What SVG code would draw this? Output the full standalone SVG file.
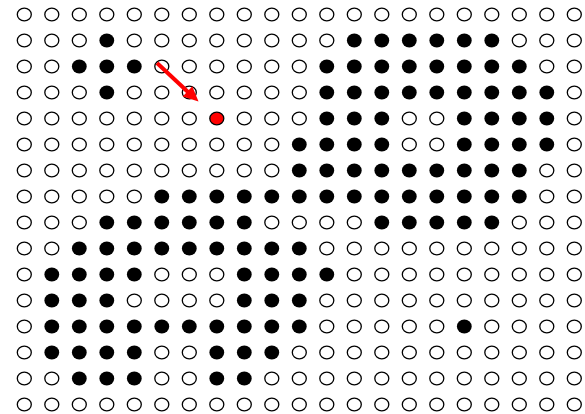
<svg xmlns="http://www.w3.org/2000/svg" xmlns:xlink="http://www.w3.org/1999/xlink" width="585" height="414" viewBox="0 0 585 414">
<style>
.bg{fill:#fff}
.arrow{stroke:#f00;stroke-width:4;fill:none}
.head{fill:#f00}
</style>
<defs>
<ellipse id="e" rx="7" ry="6.3" fill="#fff" stroke="#000" stroke-width="1.3"/>
<ellipse id="f" rx="7.4" ry="6.9" fill="#000"/>
<ellipse id="r" rx="7" ry="6.3" fill="#f00" stroke="#000" stroke-width="1.3"/>
</defs>
<rect class="bg" width="585" height="414"/>
<g id="grid">
<g id="row0" transform="translate(0,14.5)">
<use href="#e" x="24.3"/><use href="#e" x="51.8"/><use href="#e" x="79.3"/><use href="#e" x="106.8"/><use href="#e" x="134.3"/><use href="#e" x="161.8"/><use href="#e" x="189.3"/><use href="#e" x="216.8"/><use href="#e" x="244.3"/><use href="#e" x="271.8"/><use href="#e" x="299.3"/><use href="#e" x="326.8"/><use href="#e" x="354.3"/><use href="#e" x="381.8"/><use href="#e" x="409.3"/><use href="#e" x="436.8"/><use href="#e" x="464.3"/><use href="#e" x="491.8"/><use href="#e" x="519.3"/><use href="#e" x="546.8"/><use href="#e" x="574.3"/>
</g>
<g id="row1" transform="translate(0,40.5)">
<use href="#e" x="24.3"/><use href="#e" x="51.8"/><use href="#e" x="79.3"/><use href="#f" x="106.8"/><use href="#e" x="134.3"/><use href="#e" x="161.8"/><use href="#e" x="189.3"/><use href="#e" x="216.8"/><use href="#e" x="244.3"/><use href="#e" x="271.8"/><use href="#e" x="299.3"/><use href="#e" x="326.8"/><use href="#f" x="354.3"/><use href="#f" x="381.8"/><use href="#f" x="409.3"/><use href="#f" x="436.8"/><use href="#f" x="464.3"/><use href="#f" x="491.8"/><use href="#e" x="519.3"/><use href="#e" x="546.8"/><use href="#e" x="574.3"/>
</g>
<g id="row2" transform="translate(0,66.5)">
<use href="#e" x="24.3"/><use href="#e" x="51.8"/><use href="#f" x="79.3"/><use href="#f" x="106.8"/><use href="#f" x="134.3"/><use href="#e" x="161.8"/><use href="#e" x="189.3"/><use href="#e" x="216.8"/><use href="#e" x="244.3"/><use href="#e" x="271.8"/><use href="#e" x="299.3"/><use href="#f" x="326.8"/><use href="#f" x="354.3"/><use href="#f" x="381.8"/><use href="#f" x="409.3"/><use href="#f" x="436.8"/><use href="#f" x="464.3"/><use href="#f" x="491.8"/><use href="#f" x="519.3"/><use href="#e" x="546.8"/><use href="#e" x="574.3"/>
</g>
<g id="row3" transform="translate(0,92.5)">
<use href="#e" x="24.3"/><use href="#e" x="51.8"/><use href="#e" x="79.3"/><use href="#f" x="106.8"/><use href="#e" x="134.3"/><use href="#e" x="161.8"/><use href="#e" x="189.3"/><use href="#e" x="216.8"/><use href="#e" x="244.3"/><use href="#e" x="271.8"/><use href="#e" x="299.3"/><use href="#f" x="326.8"/><use href="#f" x="354.3"/><use href="#f" x="381.8"/><use href="#f" x="409.3"/><use href="#f" x="436.8"/><use href="#f" x="464.3"/><use href="#f" x="491.8"/><use href="#f" x="519.3"/><use href="#f" x="546.8"/><use href="#e" x="574.3"/>
</g>
<g id="row4" transform="translate(0,118.5)">
<use href="#e" x="24.3"/><use href="#e" x="51.8"/><use href="#e" x="79.3"/><use href="#e" x="106.8"/><use href="#e" x="134.3"/><use href="#e" x="161.8"/><use href="#e" x="189.3"/><use id="target" href="#r" x="216.8"/><use href="#e" x="244.3"/><use href="#e" x="271.8"/><use href="#e" x="299.3"/><use href="#f" x="326.8"/><use href="#f" x="354.3"/><use href="#f" x="381.8"/><use href="#e" x="409.3"/><use href="#e" x="436.8"/><use href="#f" x="464.3"/><use href="#f" x="491.8"/><use href="#f" x="519.3"/><use href="#f" x="546.8"/><use href="#e" x="574.3"/>
</g>
<g id="row5" transform="translate(0,144.5)">
<use href="#e" x="24.3"/><use href="#e" x="51.8"/><use href="#e" x="79.3"/><use href="#e" x="106.8"/><use href="#e" x="134.3"/><use href="#e" x="161.8"/><use href="#e" x="189.3"/><use href="#e" x="216.8"/><use href="#e" x="244.3"/><use href="#e" x="271.8"/><use href="#f" x="299.3"/><use href="#f" x="326.8"/><use href="#f" x="354.3"/><use href="#f" x="381.8"/><use href="#e" x="409.3"/><use href="#e" x="436.8"/><use href="#f" x="464.3"/><use href="#f" x="491.8"/><use href="#f" x="519.3"/><use href="#f" x="546.8"/><use href="#e" x="574.3"/>
</g>
<g id="row6" transform="translate(0,170.5)">
<use href="#e" x="24.3"/><use href="#e" x="51.8"/><use href="#e" x="79.3"/><use href="#e" x="106.8"/><use href="#e" x="134.3"/><use href="#e" x="161.8"/><use href="#e" x="189.3"/><use href="#e" x="216.8"/><use href="#e" x="244.3"/><use href="#e" x="271.8"/><use href="#f" x="299.3"/><use href="#f" x="326.8"/><use href="#f" x="354.3"/><use href="#f" x="381.8"/><use href="#f" x="409.3"/><use href="#f" x="436.8"/><use href="#f" x="464.3"/><use href="#f" x="491.8"/><use href="#f" x="519.3"/><use href="#e" x="546.8"/><use href="#e" x="574.3"/>
</g>
<g id="row7" transform="translate(0,196.5)">
<use href="#e" x="24.3"/><use href="#e" x="51.8"/><use href="#e" x="79.3"/><use href="#e" x="106.8"/><use href="#e" x="134.3"/><use href="#f" x="161.8"/><use href="#f" x="189.3"/><use href="#f" x="216.8"/><use href="#f" x="244.3"/><use href="#f" x="271.8"/><use href="#f" x="299.3"/><use href="#f" x="326.8"/><use href="#f" x="354.3"/><use href="#f" x="381.8"/><use href="#f" x="409.3"/><use href="#f" x="436.8"/><use href="#f" x="464.3"/><use href="#f" x="491.8"/><use href="#f" x="519.3"/><use href="#e" x="546.8"/><use href="#e" x="574.3"/>
</g>
<g id="row8" transform="translate(0,222.5)">
<use href="#e" x="24.3"/><use href="#e" x="51.8"/><use href="#e" x="79.3"/><use href="#f" x="106.8"/><use href="#f" x="134.3"/><use href="#f" x="161.8"/><use href="#f" x="189.3"/><use href="#f" x="216.8"/><use href="#f" x="244.3"/><use href="#e" x="271.8"/><use href="#e" x="299.3"/><use href="#e" x="326.8"/><use href="#e" x="354.3"/><use href="#f" x="381.8"/><use href="#f" x="409.3"/><use href="#f" x="436.8"/><use href="#f" x="464.3"/><use href="#f" x="491.8"/><use href="#e" x="519.3"/><use href="#e" x="546.8"/><use href="#e" x="574.3"/>
</g>
<g id="row9" transform="translate(0,248.5)">
<use href="#e" x="24.3"/><use href="#e" x="51.8"/><use href="#f" x="79.3"/><use href="#f" x="106.8"/><use href="#f" x="134.3"/><use href="#f" x="161.8"/><use href="#f" x="189.3"/><use href="#f" x="216.8"/><use href="#f" x="244.3"/><use href="#f" x="271.8"/><use href="#f" x="299.3"/><use href="#e" x="326.8"/><use href="#e" x="354.3"/><use href="#e" x="381.8"/><use href="#e" x="409.3"/><use href="#e" x="436.8"/><use href="#e" x="464.3"/><use href="#e" x="491.8"/><use href="#e" x="519.3"/><use href="#e" x="546.8"/><use href="#e" x="574.3"/>
</g>
<g id="row10" transform="translate(0,274.5)">
<use href="#e" x="24.3"/><use href="#f" x="51.8"/><use href="#f" x="79.3"/><use href="#f" x="106.8"/><use href="#f" x="134.3"/><use href="#e" x="161.8"/><use href="#e" x="189.3"/><use href="#e" x="216.8"/><use href="#f" x="244.3"/><use href="#f" x="271.8"/><use href="#f" x="299.3"/><use href="#f" x="326.8"/><use href="#e" x="354.3"/><use href="#e" x="381.8"/><use href="#e" x="409.3"/><use href="#e" x="436.8"/><use href="#e" x="464.3"/><use href="#e" x="491.8"/><use href="#e" x="519.3"/><use href="#e" x="546.8"/><use href="#e" x="574.3"/>
</g>
<g id="row11" transform="translate(0,300.5)">
<use href="#e" x="24.3"/><use href="#f" x="51.8"/><use href="#f" x="79.3"/><use href="#f" x="106.8"/><use href="#e" x="134.3"/><use href="#e" x="161.8"/><use href="#e" x="189.3"/><use href="#e" x="216.8"/><use href="#f" x="244.3"/><use href="#f" x="271.8"/><use href="#f" x="299.3"/><use href="#e" x="326.8"/><use href="#e" x="354.3"/><use href="#e" x="381.8"/><use href="#e" x="409.3"/><use href="#e" x="436.8"/><use href="#e" x="464.3"/><use href="#e" x="491.8"/><use href="#e" x="519.3"/><use href="#e" x="546.8"/><use href="#e" x="574.3"/>
</g>
<g id="row12" transform="translate(0,326.5)">
<use href="#e" x="24.3"/><use href="#f" x="51.8"/><use href="#f" x="79.3"/><use href="#f" x="106.8"/><use href="#f" x="134.3"/><use href="#f" x="161.8"/><use href="#f" x="189.3"/><use href="#f" x="216.8"/><use href="#f" x="244.3"/><use href="#f" x="271.8"/><use href="#f" x="299.3"/><use href="#e" x="326.8"/><use href="#e" x="354.3"/><use href="#e" x="381.8"/><use href="#e" x="409.3"/><use href="#e" x="436.8"/><use href="#f" x="464.3"/><use href="#e" x="491.8"/><use href="#e" x="519.3"/><use href="#e" x="546.8"/><use href="#e" x="574.3"/>
</g>
<g id="row13" transform="translate(0,352.5)">
<use href="#e" x="24.3"/><use href="#f" x="51.8"/><use href="#f" x="79.3"/><use href="#f" x="106.8"/><use href="#f" x="134.3"/><use href="#e" x="161.8"/><use href="#e" x="189.3"/><use href="#f" x="216.8"/><use href="#f" x="244.3"/><use href="#f" x="271.8"/><use href="#e" x="299.3"/><use href="#e" x="326.8"/><use href="#e" x="354.3"/><use href="#e" x="381.8"/><use href="#e" x="409.3"/><use href="#e" x="436.8"/><use href="#e" x="464.3"/><use href="#e" x="491.8"/><use href="#e" x="519.3"/><use href="#e" x="546.8"/><use href="#e" x="574.3"/>
</g>
<g id="row14" transform="translate(0,378.5)">
<use href="#e" x="24.3"/><use href="#e" x="51.8"/><use href="#f" x="79.3"/><use href="#f" x="106.8"/><use href="#f" x="134.3"/><use href="#e" x="161.8"/><use href="#e" x="189.3"/><use href="#f" x="216.8"/><use href="#f" x="244.3"/><use href="#e" x="271.8"/><use href="#e" x="299.3"/><use href="#e" x="326.8"/><use href="#e" x="354.3"/><use href="#e" x="381.8"/><use href="#e" x="409.3"/><use href="#e" x="436.8"/><use href="#e" x="464.3"/><use href="#e" x="491.8"/><use href="#e" x="519.3"/><use href="#e" x="546.8"/><use href="#e" x="574.3"/>
</g>
<g id="row15" transform="translate(0,404.5)">
<use href="#e" x="24.3"/><use href="#e" x="51.8"/><use href="#e" x="79.3"/><use href="#e" x="106.8"/><use href="#e" x="134.3"/><use href="#e" x="161.8"/><use href="#e" x="189.3"/><use href="#e" x="216.8"/><use href="#e" x="244.3"/><use href="#e" x="271.8"/><use href="#e" x="299.3"/><use href="#e" x="326.8"/><use href="#e" x="354.3"/><use href="#e" x="381.8"/><use href="#e" x="409.3"/><use href="#e" x="436.8"/><use href="#e" x="464.3"/><use href="#e" x="491.8"/><use href="#e" x="519.3"/><use href="#e" x="546.8"/><use href="#e" x="574.3"/>
</g>
</g>
<g id="connectors">
<line class="arrow" x1="157" y1="63" x2="188" y2="92"/>
<polygon class="head" points="198.5,101.5 182.7,96.4 192.3,86.2"/>
</g>
</svg>
